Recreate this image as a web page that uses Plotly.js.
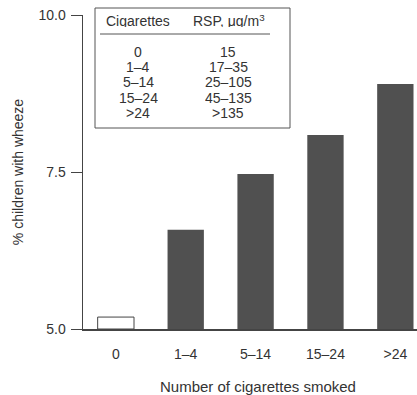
<!DOCTYPE html>
<html>
<head>
<meta charset="utf-8">
<script src="https://cdn.plot.ly/plotly-3.0.1.min.js"></script>
<style>html,body{margin:0;padding:0;background:#fff;}#chart{width:417px;height:395px;}</style>
</head>
<body>
<div id="chart"></div>
<script>
const categories = ["0", "1\u20134", "5\u201314", "15\u201324", ">24"];
const wheezePct = [5.19, 6.58, 7.47, 8.09, 8.90];
const barColors = ["#ffffff", "#505050", "#505050", "#505050", "#505050"];
const tableCigs = ["0", "1\u20134", "5\u201314", "15\u201324", ">24"];
const tableRSP = ["15", "17\u201335", "25\u2013105", "45\u2013135", ">135"];
const yTicks = [5.0, 7.5, 10.0];
const yTickText = ["5.0", "7.5", "10.0"];

const FONT = "Liberation Sans Narrow, Arial Narrow, Liberation Sans, sans-serif";
const TXT = "#333333";
// pixel -> paper helpers for the plot area (l=83, r=417, t=15, b=329)
const L = 83, R = 417, T = 15, B = 329;
const px = x => (x - L) / (R - L);
const py = y => (B - y) / (B - T);

const annotations = [];
function addText(text, x, y) {
  annotations.push({text: text, xref: "paper", yref: "paper", x: px(x), y: py(y),
    xanchor: "center", yanchor: "middle", showarrow: false, height: 13, borderpad: 0,
    font: {family: FONT, size: 14, color: TXT}});
}
addText("Cigarettes", 138, 20);
addText("RSP, \u03bcg/m<sup>3</sup>", 229, 20);
const rowY = [52, 67, 82, 97, 112];
tableCigs.forEach((t, i) => addText(t, 138, rowY[i]));
tableRSP.forEach((t, i) => addText(t, 228, rowY[i]));
annotations.push({text: "Number of cigarettes smoked", xref: "paper", yref: "paper",
  x: px(257.5), y: py(386), xanchor: "center", yanchor: "middle", showarrow: false,
  font: {family: FONT, size: 15, color: TXT}});

const shapes = [
  {type: "rect", xref: "paper", yref: "paper", x0: px(95), x1: px(290), y0: py(8), y1: py(128),
   line: {color: "#555", width: 1}, fillcolor: "rgba(0,0,0,0)"},
  {type: "line", xref: "paper", yref: "paper", x0: px(100), x1: px(270), y0: py(34), y1: py(34),
   line: {color: "#555", width: 1}}
];

const trace = {
  type: "bar",
  x: categories.map((c, i) => i),
  y: wheezePct.map(v => v - 5),
  base: 5,
  width: 0.52,
  marker: {color: barColors, line: {color: "#444", width: barColors.map(c => c === "#ffffff" ? 1 : 0)}},
  hoverinfo: "none"
};

const layout = {
  width: 417, height: 395,
  margin: {l: L, r: 417 - R, t: T, b: 395 - B},
  paper_bgcolor: "#fff", plot_bgcolor: "#fff",
  showlegend: false,
  font: {family: FONT, size: 14, color: TXT},
  xaxis: {
    range: [-0.47, 4.31],
    tickvals: [0, 1, 2, 3, 4], ticktext: categories,
    showgrid: false, zeroline: false, showline: true, linecolor: "#444", linewidth: 1.5,
    ticks: "", tickfont: {family: FONT, size: 14, color: TXT}, ticklabelstandoff: 12
  },
  yaxis: {
    range: [5, 10],
    tickvals: yTicks, ticktext: yTickText,
    showgrid: false, zeroline: false, showline: true, linecolor: "#444", linewidth: 1.5,
    ticks: "outside", ticklen: 11, tickcolor: "#444", tickwidth: 1,
    tickfont: {family: FONT, size: 14, color: TXT}, ticklabelstandoff: 2,
    title: {text: "% children with wheeze", font: {family: FONT, size: 14, color: TXT}, standoff: 11}
  },
  shapes: shapes,
  annotations: annotations
};

Plotly.newPlot("chart", [trace], layout, {staticPlot: true, displayModeBar: false});
</script>
</body>
</html>
